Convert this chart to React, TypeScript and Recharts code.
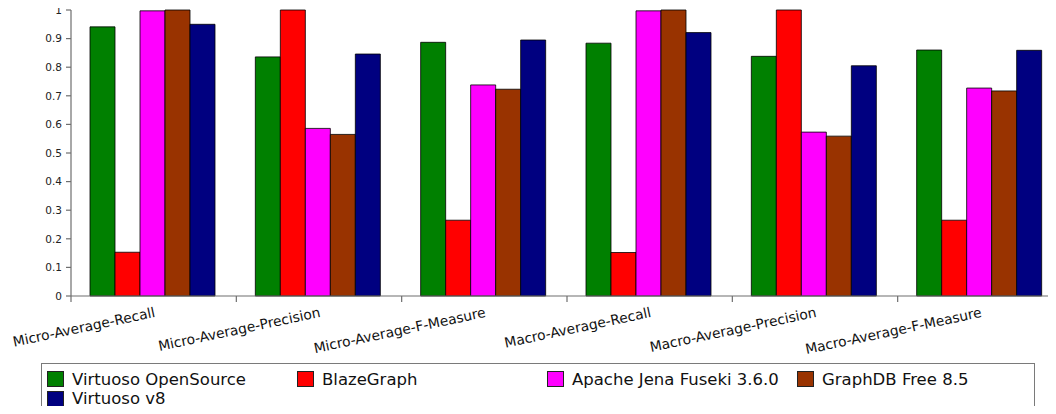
import { Bar, BarChart, XAxis, YAxis } from 'recharts'

const CATEGORIES = [
  'Micro-Average-Recall',
  'Micro-Average-Precision',
  'Micro-Average-F-Measure',
  'Macro-Average-Recall',
  'Macro-Average-Precision',
  'Macro-Average-F-Measure',
]

const VIRTUOSO_OS = [0.941, 0.836, 0.887, 0.884, 0.838, 0.86]
const BLAZEGRAPH = [0.153, 1.0, 0.265, 0.152, 1.0, 0.265]
const FUSEKI = [0.997, 0.586, 0.738, 0.997, 0.573, 0.727]
const GRAPHDB = [1.0, 0.565, 0.723, 1.0, 0.559, 0.717]
const VIRTUOSO_V8 = [0.95, 0.846, 0.895, 0.921, 0.805, 0.859]

const Y_TICKS = [0, 0.1, 0.2, 0.3, 0.4, 0.5, 0.6, 0.7, 0.8, 0.9, 1]

const SERIES = [
  { key: 'vos', name: 'Virtuoso OpenSource', color: '#008000', values: VIRTUOSO_OS },
  { key: 'blaze', name: 'BlazeGraph', color: '#ff0000', values: BLAZEGRAPH },
  { key: 'fuseki', name: 'Apache Jena Fuseki 3.6.0', color: '#ff00ff', values: FUSEKI },
  { key: 'graphdb', name: 'GraphDB Free 8.5', color: '#993300', values: GRAPHDB },
  { key: 'v8', name: 'Virtuoso v8', color: '#000080', values: VIRTUOSO_V8 },
]

const data = CATEGORIES.map((label, i) => {
  const row: Record<string, string | number> = { label }
  SERIES.forEach((s) => (row[s.key] = s.values[i]))
  return row
})

const FONT = '"DejaVu Sans", sans-serif'
const AXIS = '#6e6e6e'

// libellés inclinés + petit trait de séparation entre catégories
function CategoryTick(props: any) {
  const { x, y, payload } = props
  const half = payload?.offset ?? 82.6
  return (
    <g>
      <line x1={x - half} x2={x - half} y1={296} y2={302} stroke={AXIS} strokeWidth={1.2} />
      <text
        x={x}
        y={y}
        dy="0.72em"
        textAnchor="end"
        transform={`rotate(-12, ${x}, ${y})`}
        fontFamily={FONT}
        fontSize={13.8}
        fill="#111"
      >
        {payload.value}
      </text>
    </g>
  )
}

export default function App() {
  return (
    <div style={{ position: 'relative', width: 1056, height: 414, margin: -8, overflow: 'hidden', background: '#fff' }}>
      <BarChart
        width={1063}
        height={414}
        data={data}
        margin={{ top: 10, right: 0, left: 0, bottom: 0 }}
        barCategoryGap={19}
        barGap={0}
      >
        <XAxis
          dataKey="label"
          height={118}
          interval={0}
          tickLine={false}
          tickSize={0}
          tickMargin={11}
          axisLine={{ stroke: AXIS, strokeWidth: 1.2 }}
          tick={<CategoryTick />}
        />
        <YAxis
          width={71}
          domain={[0, 1]}
          ticks={Y_TICKS}
          interval={0}
          tickSize={5}
          tickMargin={4}
          tickFormatter={(v: number) => `${v}`}
          axisLine={{ stroke: AXIS, strokeWidth: 1.2 }}
          tickLine={{ stroke: AXIS, strokeWidth: 1.2 }}
          tick={{ fill: '#222', fontSize: 10.5, fontFamily: FONT }}
        />
        {SERIES.map((s) => (
          <Bar
            key={s.key}
            dataKey={s.key}
            name={s.name}
            fill={s.color}
            stroke="#000"
            strokeOpacity={0.8}
            strokeWidth={1}
            isAnimationActive={false}
          />
        ))}
      </BarChart>
      <div
        style={{
          position: 'absolute',
          left: 41,
          top: 363,
          width: 992,
          height: 60,
          border: '1.5px solid #7a7a7a',
          fontFamily: FONT,
          fontSize: 16.5,
          color: '#111',
        }}
      >
        {SERIES.map((s, i) => (
          <div
            key={s.key}
            style={{
              position: 'absolute',
              left: 5 + (i % 4) * 250,
              top: 7 + Math.floor(i / 4) * 19.5,
              display: 'flex',
              alignItems: 'center',
              height: 16,
              whiteSpace: 'nowrap',
            }}
          >
            <span
              style={{
                display: 'inline-block',
                width: 15,
                height: 14,
                background: s.color,
                border: '1px solid #222',
                marginRight: 8,
              }}
            />
            <span>{s.name}</span>
          </div>
        ))}
      </div>
    </div>
  )
}
